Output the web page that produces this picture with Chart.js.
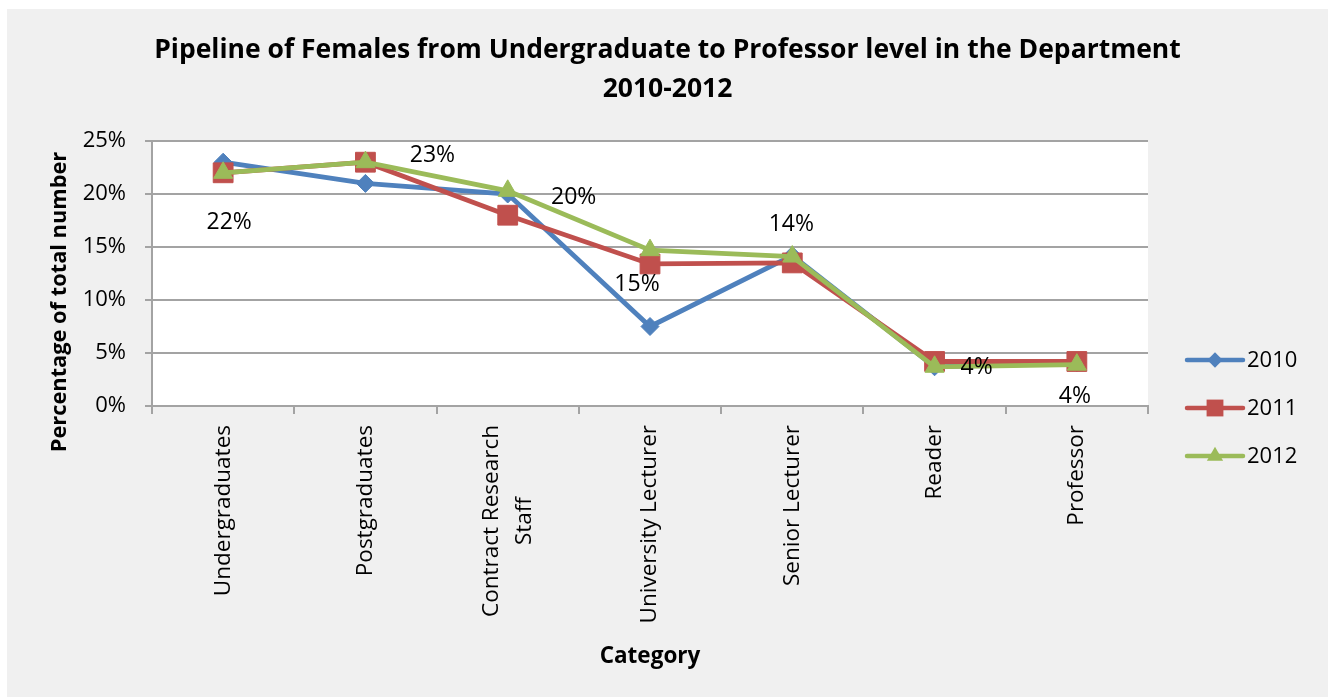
<!DOCTYPE html>
<html>
<head>
<meta charset="utf-8">
<script src="https://cdn.jsdelivr.net/npm/chart.js@4.4.1/dist/chart.umd.min.js"></script>
<style>
  html, body { margin: 0; padding: 0; background: #fff; }
  #wrap { position: absolute; left: 7px; top: 9px; width: 1321px; height: 688px; background: #f0f0f0; }
</style>
</head>
<body>
<div id="wrap"><canvas id="chart" width="1321" height="688"></canvas></div>
<script>
// data (percent of total number)
const categories = ['Undergraduates', 'Postgraduates', ['Contract Research', 'Staff'], 'University Lecturer', 'Senior Lecturer', 'Reader', 'Professor'];
const years = ['2010', '2011', '2012'];
const values2010 = [23, 21, 20, 7.5, 14.2, 3.7, 4.1];
const values2011 = [22, 23, 18, 13.4, 13.5, 4.2, 4.2];
const values2012 = [22, 23, 20.3, 14.7, 14.1, 3.7, 3.9];
const yMax = 25;
const yStep = 5;

const colors = ['#4f81bd', '#c0504d', '#9bbb59'];
const markers = ['rectRot', 'rect', 'triangle'];
const markerSize = [9, 14, 11];
const gridColor = '#a3a3a3';
const FONT = '"Open Sans", "DejaVu Sans", sans-serif';

// where the 2012 value labels sit relative to their point (px)
const labelShift = [[6, 50], [67, -7], [66, 7], [-13, 34], [-1, -32], [42, 1], [-2, 32]];

const decor = {
  id: 'decor',
  beforeDraw(chart) {
    const {ctx, chartArea: a} = chart;
    ctx.save();
    ctx.fillStyle = '#fff';
    ctx.fillRect(a.left, a.top, a.right - a.left, a.bottom - a.top);
    ctx.restore();
  },
  afterDraw(chart) {
    const ctx = chart.ctx;
    const a = chart.chartArea;
    ctx.save();
    ctx.fillStyle = '#000';
    ctx.textAlign = 'center';
    ctx.textBaseline = 'middle';

    // title
    ctx.font = 'bold 26.5px ' + FONT;
    ctx.fillText('Pipeline of Females from Undergraduate to Professor level in the Department', chart.width / 2, 41);
    ctx.fillText('2010-2012', chart.width / 2, 80);

    // y axis title
    ctx.save();
    ctx.translate(53, 293);
    ctx.rotate(-Math.PI / 2);
    ctx.font = 'bold 21.8px ' + FONT;
    ctx.fillText('Percentage of total number', 0, 0);
    ctx.restore();

    // category labels, rotated, lines centred on each other
    const xs = chart.scales.x;
    ctx.font = '22.5px ' + FONT;
    const top = a.bottom + 19, lh = 33;
    categories.forEach((c, i) => {
      const lines = Array.isArray(c) ? c : [c];
      const w = Math.max(...lines.map(t => ctx.measureText(t).width));
      const x = xs.getPixelForTick(i);
      lines.forEach((t, j) => {
        ctx.save();
        ctx.translate(x + (j - (lines.length - 1) / 2) * lh, top + w / 2);
        ctx.rotate(-Math.PI / 2);
        ctx.fillText(t, 0, 0);
        ctx.restore();
      });
    });

    // value labels for 2012
    ctx.font = '23px ' + FONT;
    const meta = chart.getDatasetMeta(2);
    meta.data.forEach((pt, i) => {
      const v = chart.data.datasets[2].data[i];
      ctx.fillText(Math.round(v) + '%', pt.x + labelShift[i][0], pt.y + labelShift[i][1]);
    });

    // legend
    const lx = 1180, ly = 351, gap = 48;
    chart.data.datasets.forEach((ds, i) => {
      const y = ly + i * gap;
      ctx.strokeStyle = ds.borderColor;
      ctx.lineWidth = 4.5;
      ctx.lineCap = 'round';
      ctx.beginPath();
      ctx.moveTo(lx, y);
      ctx.lineTo(lx + 56, y);
      ctx.stroke();
      ctx.fillStyle = ds.borderColor;
      Chart.helpers.drawPoint(ctx, {pointStyle: ds.pointStyle, radius: ds.pointRadius * 0.85, rotation: 0, borderWidth: 0}, lx + 28, y);
      ctx.fillStyle = '#000';
      ctx.textAlign = 'left';
      ctx.font = '22px ' + FONT;
      ctx.fillText(ds.label, lx + 60, y + 1);
    });
    ctx.restore();
  }
};

const seriesValues = [values2010, values2011, values2012];

new Chart(document.getElementById('chart'), {
  type: 'line',
  data: {
    labels: categories,
    datasets: years.map((y, i) => ({
      label: y,
      data: seriesValues[i],
      borderColor: colors[i],
      backgroundColor: colors[i],
      pointBackgroundColor: colors[i],
      pointBorderColor: colors[i],
      pointBorderWidth: 1,
      pointStyle: markers[i],
      pointRadius: markerSize[i],
      borderWidth: 4.8,
      order: 3 - i
    }))
  },
  options: {
    responsive: false,
    animation: false,
    devicePixelRatio: 1,
    layout: { padding: { top: 132, right: 180, bottom: 0, left: 0 } },
    plugins: {
      legend: { display: false },
      title: { display: false },
      tooltip: { enabled: false }
    },
    scales: {
      x: {
        offset: true,
        grid: { offset: true, drawOnChartArea: false, color: gridColor, lineWidth: 2, tickLength: 8 },
        border: { color: gridColor, width: 2 },
        ticks: { display: false, autoSkip: false },
        title: {
          display: true, text: 'Category', color: '#000',
          font: { family: FONT, size: 22.5, weight: 'bold', lineHeight: 1.2 },
          padding: { top: 0, bottom: 27 }
        },
        afterFit(s) { s.height = 291; }
      },
      y: {
        min: 0, max: yMax,
        grid: { color: gridColor, lineWidth: 2, tickLength: 7 },
        border: { color: gridColor, width: 2 },
        ticks: {
          stepSize: yStep, padding: 19, color: '#000',
          font: { family: FONT, size: 22 },
          callback: v => v + '%'
        },
        afterFit(s) { s.width = 145; }
      }
    }
  },
  plugins: [decor]
});
</script>
</body>
</html>
